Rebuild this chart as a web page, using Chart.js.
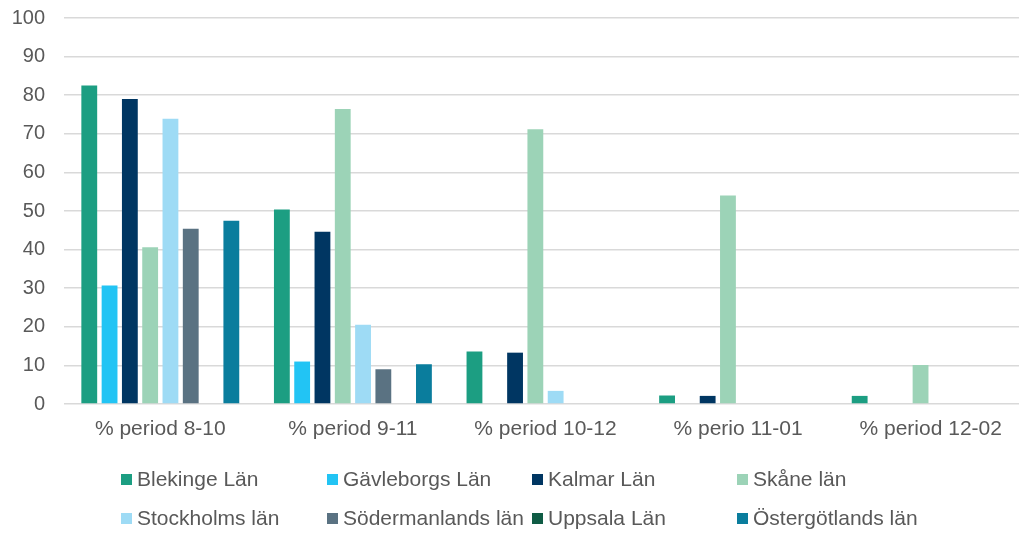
<!DOCTYPE html>
<html>
<head>
<meta charset="utf-8">
<script src="https://cdn.jsdelivr.net/npm/chart.js@4/dist/chart.umd.min.js"></script>
<style>
  html, body { margin: 0; padding: 0; background: #fff; overflow: hidden; }
  body { width: 1019px; height: 533px; position: relative; font-family: "Liberation Sans", Arial, sans-serif; }
  #wrap { position: absolute; left: 0; top: -13px; width: 1027px; height: 463px; }
  #legend { position: absolute; left: 0; top: 0; width: 1019px; height: 533px; pointer-events: none; }
  .item { position: absolute; display: flex; align-items: center; height: 24px; font-size: 21px; color: #595959; white-space: nowrap; }
  .item i { display: inline-block; width: 11px; height: 11px; margin-right: 5px; }
</style>
</head>
<body>
<div id="wrap"><canvas id="chart"></canvas></div>
<div id="legend"></div>
<script>
// Andel per län och period (procent), avläst ur originaldiagrammet.
const periods = ["% period 8-10", "% period 9-11", "% period 10-12", "% perio 11-01", "% period 12-02"];

const blekinge      = [82.5, 50.4, 13.6, 2.2, 2.1];
const gavleborg     = [30.7, 11.0, 0, 0, 0];
const kalmar        = [79.0, 44.6, 13.3, 2.1, 0];
const skane         = [40.6, 76.4, 71.2, 54.0, 10.1];
const stockholm     = [73.9, 20.5, 3.4, 0, 0];
const sodermanland  = [45.4, 9.0, 0, 0, 0];
const uppsala       = [0, 0, 0, 0, 0];
const ostergotland  = [47.5, 10.3, 0.2, 0, 0];

const yTicks = [0, 10, 20, 30, 40, 50, 60, 70, 80, 90, 100];

const series = [
  { label: "Blekinge Län",        data: blekinge,     color: "#1C9E82" },
  { label: "Gävleborgs Län",      data: gavleborg,    color: "#22C4F4" },
  { label: "Kalmar Län",          data: kalmar,       color: "#003662" },
  { label: "Skåne län",           data: skane,        color: "#9CD3B7" },
  { label: "Stockholms län",      data: stockholm,    color: "#9EDBF5" },
  { label: "Södermanlands län",   data: sodermanland, color: "#5A7282" },
  { label: "Uppsala Län",         data: uppsala,      color: "#0F5C45" },
  { label: "Östergötlands län",   data: ostergotland, color: "#0A7D9D" },
];

const FAMILY = "'Liberation Sans', Arial, sans-serif";

new Chart(document.getElementById("chart"), {
  type: "bar",
  data: {
    labels: periods,
    datasets: series.map((s) => ({
      label: s.label,
      data: s.data,
      backgroundColor: s.color,
      borderWidth: 0,
      categoryPercentage: 0.843,
      barPercentage: 0.78,
    })),
  },
  options: {
    responsive: true,
    maintainAspectRatio: false,
    animation: false,
    layout: { padding: { top: 4, left: 0, right: 0, bottom: 0 } },
    plugins: { legend: { display: false }, tooltip: { enabled: false } },
    scales: {
      x: {
        grid: { display: false, drawTicks: false },
        border: { display: false },
        ticks: { color: "#595959", font: { family: FAMILY, size: 21 }, padding: 13, maxRotation: 0 },
        afterFit: (scale) => { scale.height = 46; },
      },
      y: {
        min: 0,
        max: 100,
        afterBuildTicks: (scale) => { scale.ticks = yTicks.map((v) => ({ value: v })); },
        grid: { color: "#D9D9D9", lineWidth: 1.5, drawTicks: false },
        border: { display: false },
        ticks: { color: "#595959", font: { family: FAMILY, size: 20 }, padding: 19 },
        afterFit: (scale) => { scale.width = 64; },
      },
    },
  },
});

// Legend: 2 rader x 4 kolumner, samma ordning som dataserierna
const legendCols = [121, 327, 532, 737];
const legendRows = [479, 518];
const legend = document.getElementById("legend");
series.forEach((s, i) => {
  const item = document.createElement("div");
  item.className = "item";
  item.style.left = legendCols[i % 4] + "px";
  item.style.top = (legendRows[Math.floor(i / 4)] - 12) + "px";
  const box = document.createElement("i");
  box.style.background = s.color;
  item.appendChild(box);
  item.appendChild(document.createTextNode(s.label));
  legend.appendChild(item);
});
</script>
</body>
</html>
